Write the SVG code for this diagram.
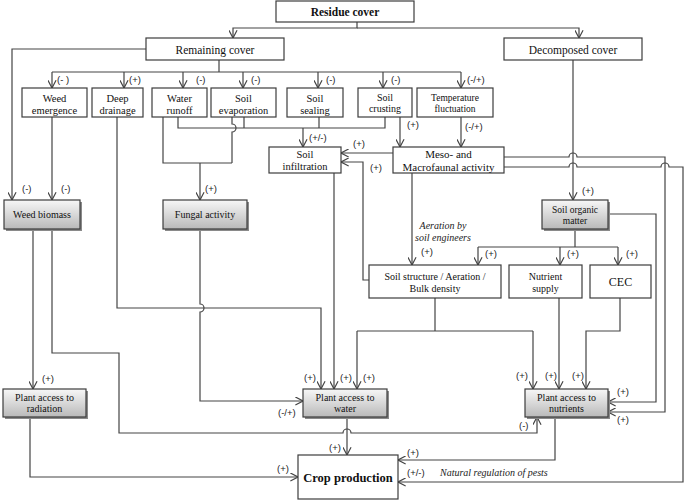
<svg xmlns="http://www.w3.org/2000/svg" width="685" height="500" viewBox="0 0 685 500">
<style>
.b{fill:#fff;stroke:#3c3c3c;stroke-width:1.2}
.g{fill:url(#gr);stroke:#3c3c3c;stroke-width:1.2}
.sh{fill:#8a8a8a;stroke:none}
.t{font-family:"Liberation Serif","Times New Roman",serif;font-size:10.5px;fill:#111;text-anchor:middle}
.s{font-size:10px}
.l{font-family:"Liberation Sans",Arial,sans-serif;font-size:9.5px;fill:#222}
.it{font-family:"Liberation Serif","Times New Roman",serif;font-style:italic;font-size:10px;fill:#222}
#conn path{fill:none;stroke:#444;stroke-width:1.2}
.a{marker-end:url(#ar)}
</style>
<defs>
<linearGradient id="gr" x1="0" y1="0" x2="0" y2="1">
<stop offset="0" stop-color="#f7f7f7"/>
<stop offset="1" stop-color="#b9b9b9"/>
</linearGradient>
<marker id="ar" viewBox="0 0 10 10" refX="9.5" refY="5" markerWidth="9" markerHeight="9" markerUnits="userSpaceOnUse" orient="auto">
<path d="M1,0.5 L9.5,5 L1,9.5" fill="none" stroke="#444" stroke-width="1.3"/>
</marker>
</defs>
<rect width="685" height="500" fill="#fff"/>

<g id="conn">
<path class="a" d="M357,22 V28 H233 V38"/>
<path class="a" d="M357,28 H579 V38"/>
<path class="a" d="M146,49 H12 V200"/>
<path d="M219,60 V72 M52,72 H461"/>
<path class="a" d="M52,72 V88"/>
<path class="a" d="M124,72 V88"/>
<path class="a" d="M183,72 V88"/>
<path class="a" d="M243,72 V88"/>
<path class="a" d="M318,72 V88"/>
<path class="a" d="M383,72 V88"/>
<path class="a" d="M461,72 V88"/>
<path class="a" d="M52,117 V200"/>
<path class="a" d="M117,117 V308 H321 V389"/>
<path d="M163,117 V163 H232 M232,117 V124 A4,4 0 0,1 232,132 V163"/>
<path class="a" d="M200,163 V200"/>
<path d="M178,117 V128 H385 V117 M244,117 V128 M319,117 V128"/>
<path class="a" d="M303,128 V147"/>
<path class="a" d="M400,117 V147"/>
<path class="a" d="M461,117 V147"/>
<path class="a" d="M393,153 H341"/>
<path class="a" d="M369,280 H363 V162 H341"/>
<path class="a" d="M573,60 V200"/>
<path class="a" d="M504,157 H569 A4,4 0 0,1 577,157 H665 V412 H608"/>
<path class="a" d="M504,167 H569 A4,4 0 0,1 577,167 H661 A4,4 0 0,1 669,167 H683 V482 H398"/>
<path class="a" d="M608,214 H656 V402 H608"/>
<path class="a" d="M412,173 V265"/>
<path d="M575,229 V247 M478,247 H618"/>
<path class="a" d="M478,247 V265"/>
<path class="a" d="M560,247 V265"/>
<path class="a" d="M618,247 V265"/>
<path d="M435,298 V331 M357,331 H533"/>
<path class="a" d="M357,331 V389"/>
<path class="a" d="M533,331 V389"/>
<path class="a" d="M559,298 V389"/>
<path class="a" d="M620,298 V331 H586 V389"/>
<path class="a" d="M334,173 V389"/>
<path class="a" d="M200,229 V304 A4,4 0 0,1 200,312 V401 H303"/>
<path class="a" d="M33,229 V389"/>
<path class="a" d="M52,229 V353 H119 V433 H343 A4,4 0 0,1 351,433 H537 V417"/>
<path class="a" d="M347,417 V455"/>
<path class="a" d="M30,417 V477 H298"/>
<path class="a" d="M555,417 V460 H398"/>
</g>

<g id="labels">
<text class="l" x="57" y="83">(- )</text>
<text class="l" x="129" y="83">(+)</text>
<text class="l" x="196" y="83">(-)</text>
<text class="l" x="251" y="83">(-)</text>
<text class="l" x="326" y="83">(-)</text>
<text class="l" x="391" y="83">(-)</text>
<text class="l" x="467" y="83">(-/+)</text>
<text class="l" x="22" y="192">(-)</text>
<text class="l" x="61" y="192">(-)</text>
<text class="l" x="205" y="192">(+)</text>
<text class="l" x="309" y="141">(+/-)</text>
<text class="l" x="407" y="128">(+)</text>
<text class="l" x="465" y="130">(-/+)</text>
<text class="l" x="353" y="147">(+)</text>
<text class="l" x="370" y="171">(+)</text>
<text class="l" x="582" y="194">(+)</text>
<text class="l" x="421" y="255">(+)</text>
<text class="it" x="443" y="229" text-anchor="middle">Aeration by</text>
<text class="it" x="443" y="241" text-anchor="middle">soil engineers</text>
<text class="l" x="485" y="257">(+)</text>
<text class="l" x="567" y="257">(+)</text>
<text class="l" x="626" y="257">(+)</text>
<text class="l" x="42" y="382">(+)</text>
<text class="l" x="304" y="381">(+)</text>
<text class="l" x="340" y="381">(+)</text>
<text class="l" x="363" y="381">(+)</text>
<text class="l" x="516" y="379">(+)</text>
<text class="l" x="545" y="379">(+)</text>
<text class="l" x="572" y="379">(+)</text>
<text class="l" x="617" y="395">(+)</text>
<text class="l" x="617" y="423">(+)</text>
<text class="l" x="278" y="416">(-/+)</text>
<text class="l" x="519" y="429">(-)</text>
<text class="l" x="329" y="451">(+)</text>
<text class="l" x="277" y="472">(+)</text>
<text class="l" x="407" y="456">(+)</text>
<text class="l" x="407" y="476">(+/-)</text>
<text class="it" x="440" y="476">Natural regulation of pests</text>
</g>

<g id="residue"><rect class="b" x="276" y="1" width="138" height="21"/><text class="t" x="345" y="16" style="font-weight:bold;font-size:11.5px">Residue cover</text></g>
<g id="remaining"><rect class="b" x="146" y="38" width="138" height="22"/><text class="t" x="215" y="54" style="font-size:11.5px">Remaining cover</text></g>
<g id="decomposed"><rect class="b" x="504" y="38" width="138" height="22"/><text class="t" x="573" y="54" style="font-size:11.5px">Decomposed cover</text></g>

<g id="weedemergence"><rect class="b" x="22" y="88" width="65" height="29"/><text class="t" x="54.5" y="102">Weed</text><text class="t" x="54.5" y="114">emergence</text></g>
<g id="deepdrainage"><rect class="b" x="92" y="88" width="51" height="29"/><text class="t" x="117.5" y="102">Deep</text><text class="t" x="117.5" y="114">drainage</text></g>
<g id="waterrunoff"><rect class="b" x="152" y="88" width="55" height="29"/><text class="t" x="179.5" y="102">Water</text><text class="t" x="179.5" y="114">runoff</text></g>
<g id="soilevaporation"><rect class="b" x="211" y="88" width="65" height="29"/><text class="t" x="243.5" y="102">Soil</text><text class="t" x="243.5" y="114">evaporation</text></g>
<g id="soilsealing"><rect class="b" x="287" y="88" width="56" height="29"/><text class="t" x="315" y="102">Soil</text><text class="t" x="315" y="114">sealing</text></g>
<g id="soilcrusting"><rect class="b" x="358" y="88" width="54" height="29"/><text class="t s" x="385" y="101">Soil</text><text class="t s" x="385" y="112">crusting</text></g>
<g id="temperature"><rect class="b" x="417" y="88" width="76" height="29"/><text class="t" x="455" y="101" style="font-size:9.5px">Temperature</text><text class="t" x="455" y="112" style="font-size:9.5px">fluctuation</text></g>

<g id="infiltration"><rect class="b" x="269" y="147" width="72" height="26"/><text class="t" x="305" y="158">Soil</text><text class="t" x="305" y="170">infiltration</text></g>
<g id="meso"><rect class="b" x="393" y="147" width="111" height="26"/><text class="t" x="448.5" y="158" style="font-size:11px">Meso- and</text><text class="t" x="448.5" y="171" style="font-size:11px">Macrofaunal activity</text></g>

<g id="weedbiomass"><rect class="sh" x="6" y="202" width="76" height="29"/><rect class="g" x="4" y="200" width="76" height="29"/><text class="t s" x="42" y="218">Weed biomass</text></g>
<g id="fungal"><rect class="sh" x="165" y="202" width="84" height="29"/><rect class="g" x="163" y="200" width="84" height="29"/><text class="t s" x="205" y="218">Fungal activity</text></g>
<g id="som"><rect class="sh" x="544" y="202" width="66" height="29"/><rect class="g" x="542" y="200" width="66" height="29"/><text class="t" x="575" y="213" style="font-size:9.5px">Soil organic</text><text class="t" x="575" y="224" style="font-size:9.5px">matter</text></g>

<g id="soilstructure"><rect class="b" x="369" y="265" width="132" height="33"/><text class="t s" x="435" y="280">Soil structure / Aeration /</text><text class="t s" x="435" y="292">Bulk density</text></g>
<g id="nutrientsupply"><rect class="b" x="509" y="265" width="73" height="33"/><text class="t s" x="545.5" y="280">Nutrient</text><text class="t s" x="545.5" y="292">supply</text></g>
<g id="cec"><rect class="b" x="590" y="265" width="61" height="33"/><text class="t" x="620.5" y="286" style="font-size:12px">CEC</text></g>

<g id="radiation"><rect class="sh" x="5" y="391" width="83" height="28"/><rect class="g" x="3" y="389" width="83" height="28"/><text class="t s" x="44.5" y="401">Plant access to</text><text class="t s" x="44.5" y="412">radiation</text></g>
<g id="water"><rect class="sh" x="305" y="391" width="84" height="28"/><rect class="g" x="303" y="389" width="84" height="28"/><text class="t s" x="345" y="401">Plant access to</text><text class="t s" x="345" y="412">water</text></g>
<g id="nutrients"><rect class="sh" x="527" y="391" width="83" height="28"/><rect class="g" x="525" y="389" width="83" height="28"/><text class="t s" x="566.5" y="401">Plant access to</text><text class="t s" x="566.5" y="412">nutrients</text></g>

<g id="crop"><rect class="b" x="298" y="455" width="100" height="44"/><text class="t" x="348" y="482" style="font-weight:bold;font-size:12.5px">Crop production</text></g>
</svg>
